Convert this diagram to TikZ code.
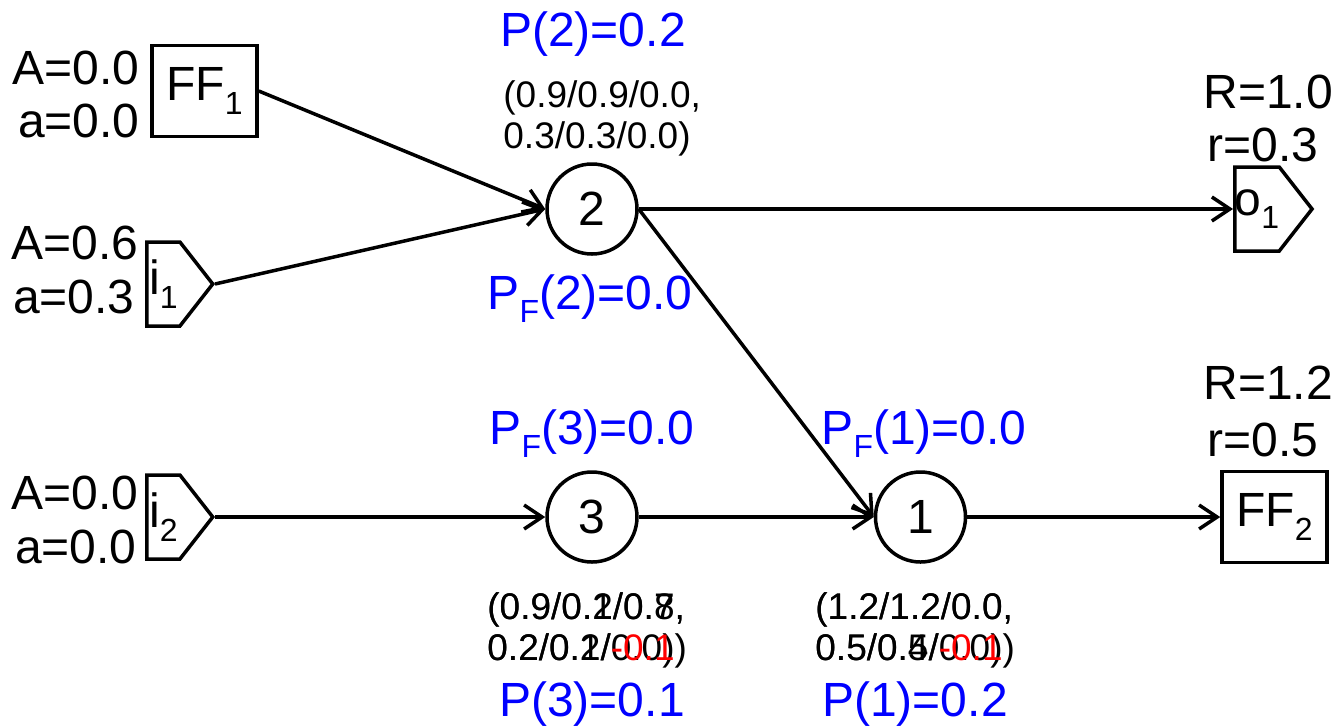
\documentclass[tikz,border=0pt]{standalone}
\usepackage{fontspec}
\setmainfont{Liberation Sans}
\usepackage{tikz}
\usetikzlibrary{shapes,shapes.symbols,arrows.meta,positioning}

\newcommand{\bigtxt}{\fontsize{24}{28}\selectfont}
\newcommand{\smalltxt}{\fontsize{18.5}{20.5}\selectfont}
\newcommand{\lowidx}[1]{\raisebox{-0.28em}{\fontsize{16}{16}\selectfont #1}}

\begin{document}
\begin{tikzpicture}[x=0.5pt, y=-0.5pt, >={Straight Barb[length=9pt,width=12pt]}]
    \tikzstyle{proc}  = [draw, circle, minimum size=45pt, inner sep=0pt, line width=1.75pt, font=\bigtxt]
    \tikzstyle{ffbox} = [draw, rectangle, minimum width=52.5pt, minimum height=45.5pt, inner sep=0pt, line width=1.75pt, font=\bigtxt]
    \tikzstyle{port}  = [draw, signal, signal to=east, signal pointer angle=104, minimum width=33pt, minimum height=42pt, inner sep=0pt, line width=1.75pt, font=\bigtxt, anchor=west]
    \tikzstyle{val}   = [inner sep=0pt, font=\bigtxt]
    \tikzstyle{prob}  = [inner sep=0pt, font=\bigtxt, text=blue, anchor=base]
    \tikzstyle{tuple} = [inner sep=0pt, font=\smalltxt, align=left, anchor=north west]
    \tikzstyle{arrow} = [line width=1.75pt, ->]

    \useasboundingbox (0,0) rectangle (1343,725);

    % Inputs and flip-flops
    \node [ffbox] (ff1) at (204.5,91) {FF\lowidx{1}};
    \node [port] (i1) at (145,284) {i\lowidx{1}};
    \node [port] (i2) at (145,517) {i\lowidx{2}};

    % Gates
    \node [proc] (n2) at (592,209) {2};
    \node [proc] (n3) at (592,517) {3};
    \node [proc, right=117.5pt of n3] (n1) {1};

    % Outputs
    \node [port] (o1) at (1233,209) {o\lowidx{1}};
    \node [ffbox] (ff2) at (1274.5,517) {FF\lowidx{2}};

    % Arrival values
    \node [val, anchor=base east] (ff1A) at (140,84) {A=0.0};
    \node [val, anchor=base east] (ff1a) at (140,137) {a=0.0};
    \node [val, anchor=base east] (i1A) at (139,259) {A=0.6};
    \node [val, anchor=base east] (i1a) at (135,313) {a=0.3};
    \node [val, anchor=base east] (i2A) at (139,509) {A=0.0};
    \node [val, anchor=base east] (i2a) at (137,563) {a=0.0};

    % Required values
    \node [val, anchor=base west] (o1R) at (1203,108) {R=1.0};
    \node [val, anchor=base west] (o1r) at (1207,161) {r=0.3};
    \node [val, anchor=base west] (ff2R) at (1203,399) {R=1.2};
    \node [val, anchor=base west] (ff2r) at (1207,456) {r=0.5};

    % Probabilities
    \node [prob] (p2) at (593,46) {P(2)=0.2};
    \node [prob] (pf2) at (590,309) {P\lowidx{F}(2)=0.0};
    \node [prob] (pf3) at (592,444) {P\lowidx{F}(3)=0.0};
    \node [prob] (pf1) at (924,444) {P\lowidx{F}(1)=0.0};
    \node [prob] (p3) at (592,716) {P(3)=0.1};
    \node [prob] (p1) at (915,716) {P(1)=0.2};

    % Timing tuples
    \node [tuple] (t2) at (503,80) {(0.9/0.9/0.0,\\0.3/0.3/0.0)};
    \node [tuple] (t3) at (487,592) {(0.9/0.2/0.7,\\0.2/0.2/0.0)};
    \node [tuple] (t3b) at (487,592) {(0.9/0.1/0.8,\\0.2/0.1/{\color{red}-0.1})};
    \node [tuple] (t1) at (815,592) {(1.2/1.2/0.0,\\0.5/0.5/0.0)};
    \node [tuple] (t1b) at (815,592) {(1.2/1.2/0.0,\\0.5/0.4/{\color{red}-0.1})};

    % Connections
    \draw [arrow] (ff1.east) -- (n2.west);
    \draw [arrow] (i1.east) -- (n2.west);
    \draw [arrow] (n2.east) -- (o1.west);
    \draw [arrow] (n2.east) -- (n1.west);
    \draw [arrow] (i2.east) -- (n3.west);
    \draw [arrow] (n3.east) -- (n1.west);
    \draw [arrow] (n1.east) -- (ff2.west);
\end{tikzpicture}
\end{document}
